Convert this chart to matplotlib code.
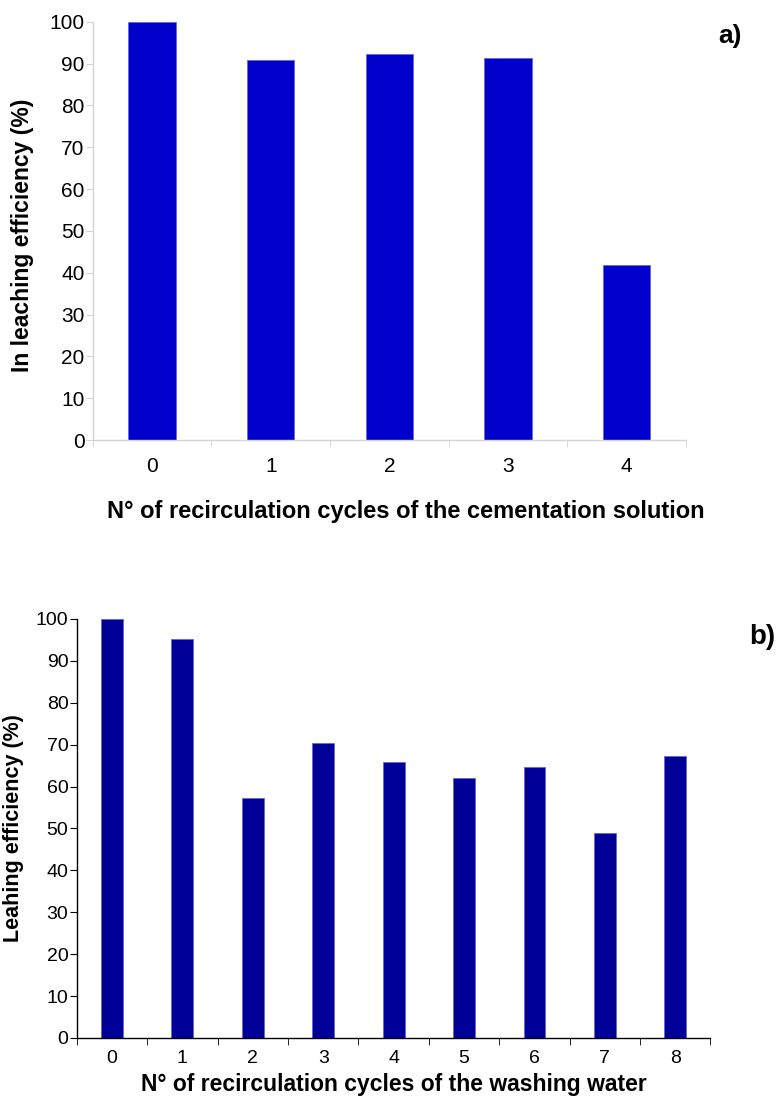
import matplotlib
matplotlib.use("Agg")
import matplotlib.pyplot as plt
import numpy as np

plt.rcParams['font.family'] = ['Liberation Sans', 'DejaVu Sans']

# a) recirculation of the cementation solution
cem_cycles = ['0', '1', '2', '3', '4']
cem_eff = [100, 90.9, 92.3, 91.4, 41.8]

# b) recirculation of the washing water
wash_cycles = ['0', '1', '2', '3', '4', '5', '6', '7', '8']
wash_eff = [100, 95.2, 57.2, 70.3, 65.9, 62.1, 64.6, 48.9, 67.3]

fig = plt.figure(figsize=(7.78, 11.02), dpi=100)

# top panel
ax1 = fig.add_axes([0.1192, 0.6007, 0.7625, 0.3796])
x1 = np.arange(len(cem_cycles))
ax1.bar(x1, cem_eff, 0.4, color='#0000CC', edgecolor='#6666DD', linewidth=0.6)
ax1.set_xlim(-0.5, len(cem_cycles) - 0.5)
ax1.set_ylim(0, 100)
ax1.set_yticks(np.arange(0, 101, 10))
ax1.set_xticks(x1)
ax1.set_xticklabels(cem_cycles)
ax1.set_xticks(np.arange(-0.5, len(cem_cycles)), minor=True)
for s in ['top', 'right']:
    ax1.spines[s].set_visible(False)
for s in ['left', 'bottom']:
    ax1.spines[s].set_color('#d4d4d4')
    ax1.spines[s].set_linewidth(1.0)
ax1.tick_params(axis='y', labelsize=15, length=5, color='#d4d4d4', pad=1)
ax1.tick_params(axis='x', which='major', labelsize=15, length=0, pad=12)
ax1.tick_params(axis='x', which='minor', length=5, color='#d4d4d4')
ax1.set_ylabel("In leaching efficiency (%)", fontsize=16.5, fontweight='bold',
               va='center')
ax1.set_xlabel("N° of recirculation cycles of the cementation solution",
               fontsize=17, fontweight='bold', va='center')
ax1.yaxis.set_label_coords(-0.119, 0.49)
ax1.xaxis.set_label_coords(0.527, -0.172)

# bottom panel
ax2 = fig.add_axes([0.0986, 0.0581, 0.8146, 0.3802])
x2 = np.arange(len(wash_cycles))
ax2.bar(x2, wash_eff, 0.31, color='#000099', edgecolor='#6666CC', linewidth=0.6)
ax2.set_xlim(-0.5, len(wash_cycles) - 0.5)
ax2.set_ylim(0, 100)
ax2.set_yticks(np.arange(0, 101, 10))
ax2.set_xticks(x2)
ax2.set_xticklabels(wash_cycles)
ax2.set_xticks(np.arange(-0.5, len(wash_cycles)), minor=True)
for s in ['top', 'right']:
    ax2.spines[s].set_visible(False)
for s in ['left', 'bottom']:
    ax2.spines[s].set_color('black')
    ax2.spines[s].set_linewidth(1.0)
ax2.tick_params(axis='y', labelsize=14, length=5, pad=1)
ax2.tick_params(axis='x', which='major', labelsize=14, length=0, pad=9)
ax2.tick_params(axis='x', which='minor', length=5)
ax2.set_ylabel("Leahing efficiency (%)", fontsize=15.5, fontweight='bold',
               va='center')
ax2.set_xlabel("N° of recirculation cycles of the washing water",
               fontsize=16.5, fontweight='bold', va='center')
ax2.yaxis.set_label_coords(-0.099, 0.5)
ax2.xaxis.set_label_coords(0.5, -0.112)

# panel letters
fig.text(730 / 778, 1 - 36 / 1102, "a)", fontsize=19, fontweight='bold',
         ha='center', va='center')
fig.text(762 / 778, 1 - 637 / 1102, "b)", fontsize=20, fontweight='bold',
         ha='center', va='center')

plt.savefig("out.png", dpi=100)
